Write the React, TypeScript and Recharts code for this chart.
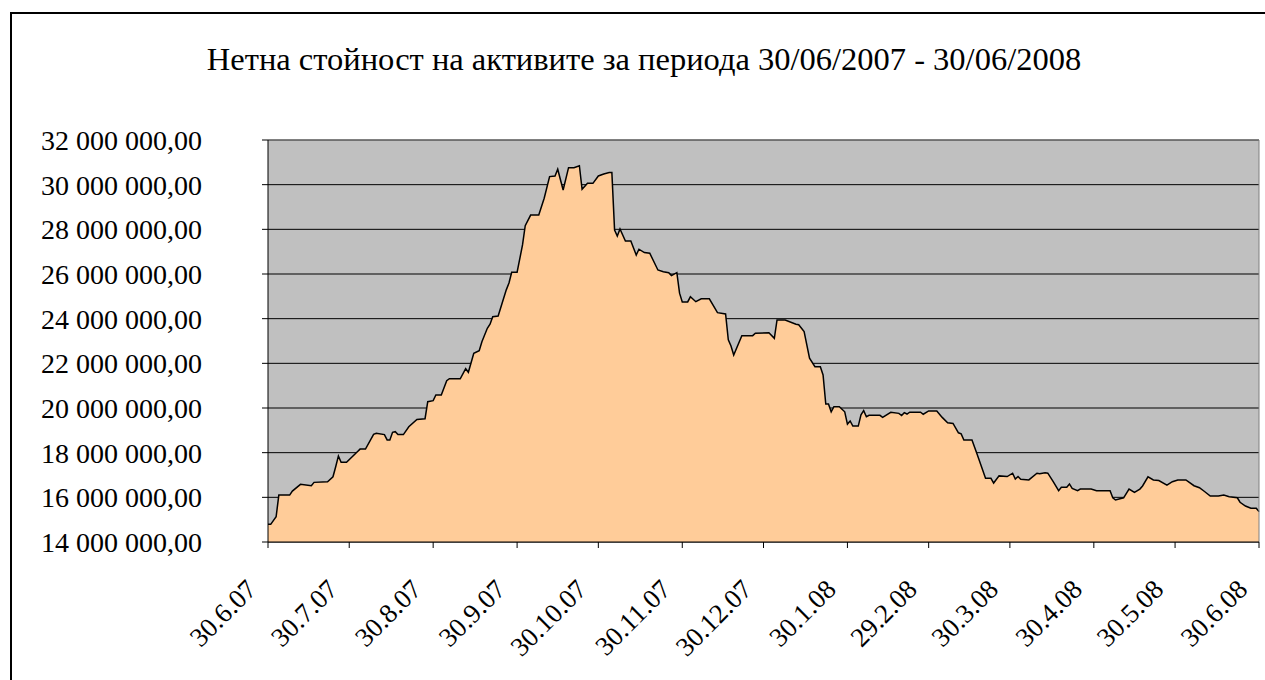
import React from "react";
import { Area, AreaChart, CartesianGrid, ReferenceLine, XAxis, YAxis } from "recharts";

// days since 30.06.2007
const days = [
  0, 1, 3, 4, 8, 9, 12, 16, 17, 22, 24, 25, 26, 27, 29, 33, 34, 36, 39, 40,
  43, 44, 45, 46, 47, 48, 50, 52, 55, 58, 59, 61, 62, 64, 66, 67, 71, 73, 74, 76,
  78, 79, 81, 82, 83, 85, 88, 89, 90, 92, 94, 95, 97, 100, 102, 104, 106, 107, 109, 111,
  113, 115, 116, 118, 120, 122, 124, 126, 127, 128, 129, 130, 132, 134, 136, 137, 139, 141, 144, 146,
  148, 149, 151, 152, 153, 155, 156, 158, 160, 163, 166, 169, 170, 171, 172, 175, 179, 180, 185, 187,
  188, 191, 195, 196, 198, 200, 202, 204, 205, 206, 207, 208, 209, 211, 213, 214, 215, 216, 218, 219,
  220, 221, 222, 226, 227, 230, 233, 234, 235, 236, 237, 241, 242, 244, 247, 249, 251, 253, 255, 256,
  257, 260, 262, 265, 267, 268, 270, 273, 275, 276, 277, 278, 281, 284, 285, 287, 288, 290, 292, 293,
  295, 296, 297, 299, 300, 304, 306, 311, 312, 313, 316, 318, 320, 322, 323, 325, 327, 329, 332, 334,
  336, 339, 342, 344, 346, 348, 351, 353, 355, 358, 359, 361, 363, 365, 366,
];

// net asset value, million BGN
const nav = [
  14.79, 14.79, 15.13, 16.1, 16.1, 16.28, 16.58, 16.52, 16.67, 16.7, 16.92, 17.37, 17.85, 17.57, 17.57, 18.04, 18.16, 18.16, 18.82, 18.87,
  18.81, 18.57, 18.57, 18.91, 18.94, 18.81, 18.81, 19.16, 19.49, 19.52, 20.28, 20.33, 20.58, 20.58, 21.22, 21.31, 21.31, 21.76, 21.6, 22.45,
  22.57, 22.97, 23.57, 23.75, 24.09, 24.12, 25.29, 25.6, 26.08, 26.08, 27.3, 28.16, 28.64, 28.64, 29.39, 30.36, 30.39, 30.69, 29.76, 30.76,
  30.76, 30.85, 29.79, 30.06, 30.06, 30.39, 30.48, 30.54, 30.54, 27.97, 27.7, 28.02, 27.48, 27.48, 26.85, 27.11, 26.96, 26.93, 26.18, 26.1,
  26.06, 25.93, 26.06, 25.14, 24.75, 24.75, 24.98, 24.76, 24.89, 24.89, 24.27, 24.21, 23.05, 22.78, 22.37, 23.24, 23.24, 23.35, 23.37, 23.12,
  23.94, 23.94, 23.75, 23.73, 23.42, 22.23, 21.85, 21.85, 21.48, 20.18, 20.18, 19.83, 20.06, 20.06, 19.83, 19.28, 19.42, 19.19, 19.19, 19.69,
  19.88, 19.61, 19.67, 19.67, 19.58, 19.81, 19.76, 19.66, 19.79, 19.73, 19.81, 19.81, 19.72, 19.87, 19.87, 19.58, 19.34, 19.31, 18.89, 18.84,
  18.57, 18.57, 17.9, 16.85, 16.85, 16.64, 16.96, 16.93, 17.08, 16.82, 16.93, 16.81, 16.78, 17.08, 17.06, 17.1, 17.08, 16.7, 16.3, 16.45,
  16.45, 16.6, 16.4, 16.3, 16.37, 16.37, 16.3, 16.3, 15.98, 15.88, 15.98, 16.37, 16.22, 16.37, 16.51, 16.92, 16.78, 16.75, 16.55, 16.7,
  16.78, 16.78, 16.52, 16.43, 16.25, 16.06, 16.06, 16.1, 16.03, 15.98, 15.78, 15.61, 15.51, 15.51, 15.36,
];

const tickDays = [0, 30, 61, 92, 122, 153, 183, 214, 244, 274, 305, 335, 366];
const tickLabels = [
  "30.6.07", "30.7.07", "30.8.07", "30.9.07", "30.10.07", "30.11.07", "30.12.07",
  "30.1.08", "29.2.08", "30.3.08", "30.4.08", "30.5.08", "30.6.08",
];
const yTicks = [14, 16, 18, 20, 22, 24, 26, 28, 30, 32];

const data = days.map((d, i) => ({ day: d, nav: nav[i] }));

const FONT = "Liberation Serif, Times New Roman, DejaVu Serif, serif";

function fmtMoney(m: number) {
  const whole = Math.round(m * 1000000)
    .toString()
    .replace(/\B(?=(\d{3})+(?!\d))/g, " ");
  return whole + ",00";
}

function DateTick({ x, y, payload }: any) {
  const i = tickDays.indexOf(payload.value);
  const tx = x - 10;
  const ty = y + 41;
  return (
    <text
      x={tx}
      y={ty}
      textAnchor="end"
      fontSize={27}
      fontFamily={FONT}
      fill="#000"
      transform={`rotate(-45, ${tx}, ${ty})`}
    >
      {tickLabels[i]}
    </text>
  );
}

export default function App() {
  return (
    <div
      style={{
        position: "fixed",
        left: 0,
        top: 0,
        width: 1265,
        height: 680,
        overflow: "hidden",
        background: "#fff",
        fontFamily: FONT,
      }}
    >
      <div
        style={{
          position: "absolute",
          left: 10,
          top: 12,
          width: 1400,
          height: 800,
          borderLeft: "2px solid #000",
          borderTop: "2px solid #000",
        }}
      />
      <div
        style={{
          position: "absolute",
          left: 0,
          width: 1288,
          top: 41,
          textAlign: "center",
          fontFamily: FONT,
          fontSize: 32.5,
          lineHeight: "36px",
          color: "#000",
          whiteSpace: "nowrap",
        }}
      >
        Нетна стойност на активите за периода 30/06/2007 - 30/06/2008
      </div>
      <div style={{ position: "absolute", left: 0, top: 0 }}>
        <AreaChart
          width={1265}
          height={680}
          data={data}
          margin={{ top: 140, right: 6, bottom: 38, left: 0 }}
        >
          <CartesianGrid vertical={false} stroke="#000" fill="#C0C0C0" fillOpacity={1} />
          <XAxis
            dataKey="day"
            type="number"
            domain={[0, 366]}
            ticks={tickDays}
            interval={0}
            height={100}
            stroke="#000"
            tickSize={6}
            tick={<DateTick />}
          />
          <YAxis
            type="number"
            domain={[14, 32]}
            ticks={yTicks}
            interval={0}
            width={268}
            stroke="#000"
            tickSize={6}
            tickMargin={60}
            tickFormatter={fmtMoney}
            tick={{ fontSize: 28, fontFamily: FONT, fill: "#000" }}
          />
          <Area
            type="linear"
            dataKey="nav"
            stroke="#000"
            strokeWidth={1.5}
            fill="#FFCC99"
            fillOpacity={1}
            isAnimationActive={false}
            dot={false}
            activeDot={false}
          />
          <ReferenceLine y={32} stroke="#808080" />
          <ReferenceLine x={366} stroke="#808080" />
        </AreaChart>
      </div>
    </div>
  );
}
